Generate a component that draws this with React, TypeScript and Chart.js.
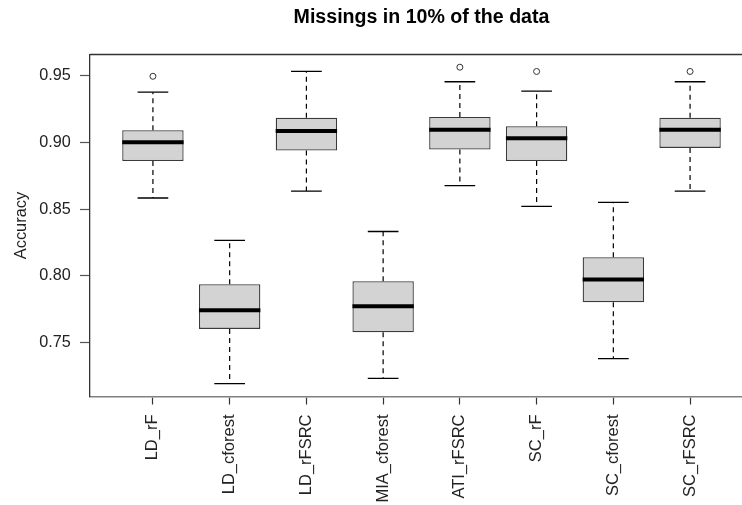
import React, { useEffect, useRef } from 'react';
import { Chart, registerables } from 'chart.js';

Chart.register(...registerables);

const categories = ['LD_rF', 'LD_cforest', 'LD_rFSRC', 'MIA_cforest', 'ATI_rFSRC', 'SC_rF', 'SC_cforest', 'SC_rFSRC'];
const lowerWhisker = [0.8583, 0.7193, 0.8635, 0.7233, 0.8675, 0.852, 0.738, 0.8635];
const q1 = [0.886, 0.7603, 0.8938, 0.7578, 0.8945, 0.886, 0.7803, 0.8958];
const medians = [0.9001, 0.7743, 0.9085, 0.7773, 0.9093, 0.903, 0.7972, 0.9093];
const q3 = [0.909, 0.7937, 0.9183, 0.796, 0.919, 0.912, 0.814, 0.9183];
const upperWhisker = [0.9375, 0.8265, 0.953, 0.8332, 0.9453, 0.9383, 0.855, 0.9453];
const outlierCategory = [1, 5, 6, 8];
const outlierValue = [0.9494, 0.9562, 0.953, 0.953];
const yTicks = [0.75, 0.8, 0.85, 0.9, 0.95];
const chartTitle = 'Missings in 10% of the data';
const yLabel = 'Accuracy';

const FONT = '"Liberation Sans", Arial, Helvetica, sans-serif';

export default function App() {
  const ref = useRef<HTMLCanvasElement>(null);

  useEffect(() => {
    const canvas = ref.current;
    if (!canvas) return;

    const boxExtras = {
      id: 'boxExtras',
      afterDatasetsDraw(chart: any) {
        const { ctx, scales, chartArea } = chart;
        const x = scales.x;
        const y = scales.y;
        ctx.save();
        categories.forEach((_, i) => {
          const c = i + 1;
          const cx = x.getPixelForValue(c);
          // dashed whiskers
          ctx.strokeStyle = '#000';
          ctx.lineWidth = 1.2;
          ctx.setLineDash([5, 4]);
          ctx.beginPath();
          ctx.moveTo(cx, y.getPixelForValue(q3[i]));
          ctx.lineTo(cx, y.getPixelForValue(upperWhisker[i]));
          ctx.moveTo(cx, y.getPixelForValue(q1[i]));
          ctx.lineTo(cx, y.getPixelForValue(lowerWhisker[i]));
          ctx.stroke();
          ctx.setLineDash([]);
          // caps
          const cl = x.getPixelForValue(c - 0.2);
          const cr = x.getPixelForValue(c + 0.2);
          ctx.lineWidth = 1.3;
          ctx.beginPath();
          ctx.moveTo(cl, y.getPixelForValue(upperWhisker[i]));
          ctx.lineTo(cr, y.getPixelForValue(upperWhisker[i]));
          ctx.moveTo(cl, y.getPixelForValue(lowerWhisker[i]));
          ctx.lineTo(cr, y.getPixelForValue(lowerWhisker[i]));
          ctx.stroke();
          // median
          ctx.lineWidth = 4;
          ctx.beginPath();
          ctx.moveTo(x.getPixelForValue(c - 0.4), y.getPixelForValue(medians[i]));
          ctx.lineTo(x.getPixelForValue(c + 0.4), y.getPixelForValue(medians[i]));
          ctx.stroke();
        });
        // top and right frame
        ctx.strokeStyle = '#333';
        ctx.lineWidth = 1.3;
        ctx.beginPath();
        ctx.moveTo(chartArea.left, chartArea.top);
        ctx.lineTo(chartArea.right, chartArea.top);
        ctx.lineTo(chartArea.right, chartArea.bottom);
        ctx.stroke();
        // title
        ctx.fillStyle = '#000';
        ctx.font = `bold 19.6px ${FONT}`;
        ctx.textAlign = 'center';
        ctx.textBaseline = 'alphabetic';
        ctx.fillText(chartTitle, (chartArea.left + chartArea.right) / 2, 22.7);
        ctx.restore();
      },
    };

    const chart = new Chart(canvas, {
      type: 'bar',
      data: {
        datasets: [
          {
            type: 'bar',
            data: categories.map((_, i) => ({ x: i + 1, y: [q1[i], q3[i]] })) as any,
            backgroundColor: '#d3d3d3',
            borderColor: '#3a3a3a',
            borderWidth: 1.3,
            borderSkipped: false,
            barPercentage: 0.8,
            categoryPercentage: 1,
          } as any,
          {
            type: 'scatter',
            data: outlierCategory.map((c, i) => ({ x: c, y: outlierValue[i] })),
            pointRadius: 3,
            pointBorderColor: '#333',
            pointBackgroundColor: 'rgba(255,255,255,0)',
            pointBorderWidth: 1,
            showLine: false,
          } as any,
        ],
      },
      options: {
        responsive: false,
        animation: false,
        devicePixelRatio: 1,
        layout: { padding: { top: 54.5, right: 7, bottom: 0, left: 0 } },
        plugins: {
          legend: { display: false },
          tooltip: { enabled: false },
          title: { display: false },
        },
        scales: {
          x: {
            type: 'linear',
            min: 0.18,
            max: 8.82,
            bounds: 'data',
            offset: false,
            afterFit: (s: any) => {
              s.height = 108.5;
            },
            afterBuildTicks: (s: any) => {
              s.ticks = categories.map((_, i) => ({ value: i + 1 }));
            },
            ticks: {
              autoSkip: false,
              minRotation: 90,
              maxRotation: 90,
              padding: 10,
              color: '#222',
              font: { family: FONT, size: 16.5 },
              callback: (_v: any, i: number) => categories[i],
            },
            grid: {
              display: true,
              drawOnChartArea: false,
              drawTicks: true,
              tickLength: 8,
              tickColor: '#333',
              tickWidth: 1.2,
              offset: false,
            },
            border: { display: true, color: '#808080', width: 1.6 },
          } as any,
          y: {
            type: 'linear',
            position: 'left',
            min: 0.7097,
            max: 0.9657,
            bounds: 'data',
            beginAtZero: false,
            afterFit: (s: any) => {
              s.width = 90;
            },
            afterBuildTicks: (s: any) => {
              s.ticks = yTicks.map((v) => ({ value: v }));
            },
            ticks: {
              padding: 9.3,
              color: '#222',
              font: { family: FONT, size: 16.2 },
              callback: (v: any) => Number(v).toFixed(2),
            },
            grid: {
              display: true,
              drawOnChartArea: false,
              drawTicks: true,
              tickLength: 10,
              tickColor: '#555',
              tickWidth: 1.2,
            },
            border: { display: true, color: '#333', width: 1.3 },
            title: {
              display: true,
              text: yLabel,
              color: '#222',
              font: { family: FONT, size: 16.4, lineHeight: 1 },
              padding: { top: 13.5, bottom: 0 },
            },
          } as any,
        },
      },
      plugins: [boxExtras],
    });

    return () => {
      chart.destroy();
    };
  }, []);

  return (
    <div
      style={{
        position: 'fixed',
        left: 0,
        top: 0,
        width: 742,
        height: 505,
        overflow: 'hidden',
        background: '#fff',
      }}
    >
      <canvas ref={ref} width={760} height={505} style={{ display: 'block' }} />
    </div>
  );
}
